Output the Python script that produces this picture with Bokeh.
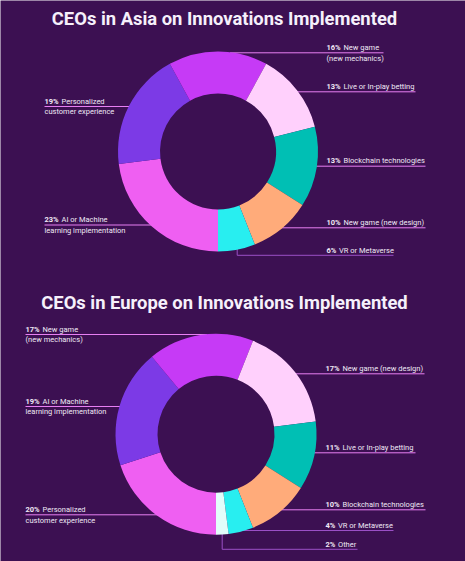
import math
from bokeh.plotting import figure
from bokeh.models import Range1d
from bokeh.core.properties import value
from bokeh.embed import file_html
from bokeh.resources import INLINE

# ---------------- data ----------------
asia_title = "CEOs in Asia on Innovations Implemented"
asia_labels = ["AI or Machine\nlearning implementation", "Personalized\ncustomer experience",
               "New game\n(new mechanics)", "Live or In-play betting", "Blockchain technologies",
               "New game (new design)", "VR or Metaverse"]
asia_values = [23, 19, 16, 13, 13, 10, 6]

europe_title = "CEOs in Europe on Innovations Implemented"
europe_labels = ["Personalized\ncustomer experience", "AI or Machine\nlearning implementation",
                 "New game\n(new mechanics)", "New game (new design)", "Live or In-play betting",
                 "Blockchain technologies", "VR or Metaverse", "Other"]
europe_values = [20, 19, 17, 17, 11, 10, 4, 2]

# ---------------- styles ----------------
BG = "#3c1052"
asia_colors = ["#ef5ff2", "#7c3ae6", "#c63af6", "#ffd0fc", "#00bfb4", "#ffab7a", "#28eef0"]
europe_colors = ["#ef5ff2", "#7c3ae6", "#c63af6", "#ffd0fc", "#00bfb4", "#ffab7a", "#28eef0", "#e2fdfa"]
LINE = "#e77ff2"
DIM = "#9a4fc6"
TXT = "#f0e8f5"

W, H = 465, 561
p = figure(width=W, height=H, output_backend="svg", toolbar_location=None,
           x_range=Range1d(0, W), y_range=Range1d(0, H), min_border=0,
           background_fill_color=BG, border_fill_color=BG)
p.axis.visible = False
p.grid.visible = False
p.outline_line_color = None


def Y(y):
    return H - y


def draw_chart(title, title_y, labels, values, colors, cx, cy, R, r, layout):
    # title
    p.text(x=[224], y=[Y(title_y)], text=[title], text_font=value("Roboto"),
           text_font_style="bold", text_font_size="18.4px", text_color="#f6f0fb",
           text_align="center", text_baseline="middle")
    # leader lines (drawn beneath wedges)
    for (side, lx, ly, xend, dim, elbow) in layout:
        col = DIM if dim else LINE
        if elbow is not None:
            p.line(x=[elbow, elbow, xend], y=[Y(cy + R - 6), Y(ly), Y(ly)], line_color=col, line_width=1)
        else:
            dy = abs(ly - cy)
            dx = math.sqrt(max(R * R - dy * dy, 0))
            if side == "R":
                p.line(x=[cx + dx - 4, xend], y=[Y(ly), Y(ly)], line_color=col, line_width=1)
            else:
                p.line(x=[lx, cx - dx + 4], y=[Y(ly), Y(ly)], line_color=col, line_width=1)
    # wedges: start at bottom, go clockwise
    total = float(sum(values))
    a = -math.pi / 2
    starts, ends = [], []
    for v in values:
        th = 2 * math.pi * v / total
        starts.append(a - th)
        ends.append(a)
        a -= th
    p.annular_wedge(x=[cx] * len(values), y=[Y(cy)] * len(values), inner_radius=r, outer_radius=R,
                    start_angle=starts, end_angle=ends, direction="anticlock",
                    fill_color=colors, line_color=None)
    # labels
    for lab, v, (side, lx, ly, xend, dim, elbow) in zip(labels, values, layout):
        pct = f"{v}%"
        off = 17 if v >= 10 else 12.5
        lines = lab.split("\n")
        ty = ly - 5.3
        p.text(x=[lx], y=[Y(ty)], text=[pct], text_font=value("Roboto"), text_font_style="bold",
               text_font_size="7.5px", text_color=TXT, text_align="left", text_baseline="middle")
        p.text(x=[lx + off], y=[Y(ty)], text=[lines[0]], text_font=value("Roboto"),
               text_font_size="7.5px", text_color=TXT, text_align="left", text_baseline="middle")
        if len(lines) > 1:
            p.text(x=[lx], y=[Y(ty + 10.6)], text=[lines[1]], text_font=value("Roboto"),
                   text_font_size="7.5px", text_color=TXT, text_align="left", text_baseline="middle")


# layout: (side, label x, underline y, line end x, dim, elbow x)
asia_layout = [
    ("L", 44, 224.5, None, False, None),
    ("L", 44, 106, None, False, None),
    ("R", 326, 52.3, 383, False, None),
    ("R", 326, 91.3, 415, False, None),
    ("R", 326, 165.7, 425, False, None),
    ("R", 326, 227.3, 425, False, None),
    ("R", 326, 254.8, 393, True, 236.7),
]
europe_layout = [
    ("L", 25, 514.3, None, False, None),
    ("L", 25, 406, None, False, None),
    ("L", 25, 334, None, False, None),
    ("R", 325, 373.3, 424, False, None),
    ("R", 325, 452.3, 415, False, None),
    ("R", 325, 509.3, 425, False, None),
    ("R", 325, 530, 393, True, None),
    ("R", 325, 548.8, 357, True, 221.7),
]

draw_chart(asia_title, 18, asia_labels, asia_values, asia_colors, 217.5, 151, 100, 58, asia_layout)
draw_chart(europe_title, 301.5, europe_labels, europe_values, europe_colors, 215.5, 433.7, 100.5, 58.5,
           europe_layout)

open("out.html", "w").write(file_html(p, INLINE))
